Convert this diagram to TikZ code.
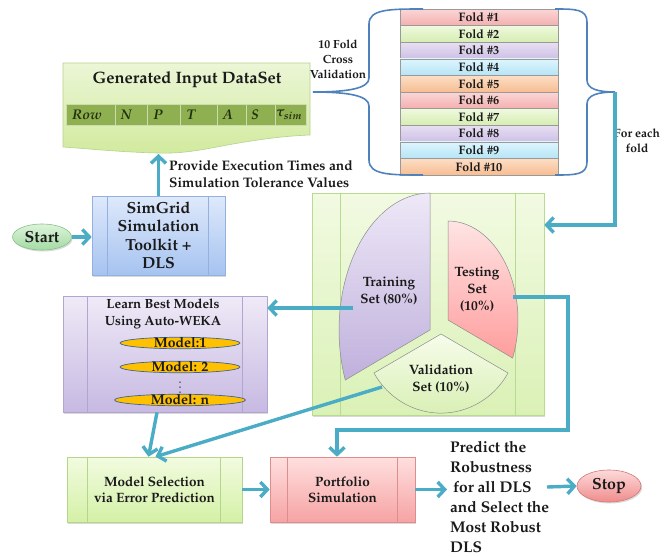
\documentclass[tikz,border=0pt]{standalone}
\usepackage[T1]{fontenc}
\usepackage{mathpazo}
\usetikzlibrary{arrows.meta,calc,shapes.geometric,shadows}
\definecolor{tealA}{HTML}{4BACC6}
\definecolor{braceB}{HTML}{4F81BD}
\definecolor{txt}{HTML}{1A1A1A}
% boxes
\definecolor{genT}{HTML}{EBF6D6}\definecolor{genM}{HTML}{D2EA9E}\definecolor{genB}{HTML}{B5D290}
\definecolor{tblG}{HTML}{8FB051}\definecolor{tblT}{HTML}{23300F}
\definecolor{sgT}{HTML}{DEE9FB}\definecolor{sgM}{HTML}{A6C3F0}\definecolor{sgB}{HTML}{94B0DE}
\definecolor{stT}{HTML}{DDF3DA}\definecolor{stM}{HTML}{A3DBA4}\definecolor{stB}{HTML}{86C286}
\definecolor{cvT}{HTML}{F2FAE2}\definecolor{cvM}{HTML}{DAF1B6}\definecolor{cvB}{HTML}{B9DB90}
\definecolor{lnT}{HTML}{EFEAF7}\definecolor{lnM}{HTML}{C7B9E2}\definecolor{lnB}{HTML}{B3A5D1}
\definecolor{msT}{HTML}{F2FBE0}\definecolor{msM}{HTML}{D4F1A6}\definecolor{msB}{HTML}{B5D68A}
\definecolor{ptT}{HTML}{FFDFDF}\definecolor{ptM}{HTML}{F6A3A3}\definecolor{ptB}{HTML}{DE8C8C}
\definecolor{spT}{HTML}{FDDADA}\definecolor{spM}{HTML}{F08C8C}\definecolor{spB}{HTML}{D27878}
% pie
\definecolor{trT}{HTML}{EEE8F7}\definecolor{trM}{HTML}{BFB0DC}
\definecolor{teT}{HTML}{FFE4E4}\definecolor{teM}{HTML}{FF9D9D}
\definecolor{vaT}{HTML}{F7FCEB}\definecolor{vaM}{HTML}{D5EEAE}
\definecolor{pieB}{HTML}{8C8C8C}
% folds
\definecolor{fRT}{HTML}{FBD6D6}\definecolor{fRB}{HTML}{F4AFAF}
\definecolor{fGT}{HTML}{EFF9DE}\definecolor{fGB}{HTML}{D6EDB2}
\definecolor{fPT}{HTML}{E8E0F3}\definecolor{fPB}{HTML}{CDBFE5}
\definecolor{fCT}{HTML}{DEF5FD}\definecolor{fCB}{HTML}{B5E5F6}
\definecolor{fOT}{HTML}{FCDEC6}\definecolor{fOB}{HTML}{F7BD92}
\definecolor{mdl}{HTML}{FFC000}\definecolor{mdlB}{HTML}{3E6494}
\begin{document}
\begin{tikzpicture}[x=1pt,y=-1pt,
  every node/.style={text=txt, inner sep=0pt, align=center},
  arr/.style={draw=tealA, line width=3.4pt, -{Straight Barb[length=7pt,width=15pt]}},
  brc/.style={draw=braceB, line width=1.6pt},
  fs/.style={font=\fontsize{#1}{#1}\selectfont\bfseries},
  shd/.style={drop shadow={shadow xshift=1.2pt, shadow yshift=-1.5pt, opacity=0.25, fill=black!60}},
  procbox/.style n args={3}{rectangle, draw=#3, top color=#1, bottom color=#2, line width=0.6pt, shd},
  fold/.style={rectangle, draw=black!40, line width=0.5pt, minimum width=158pt, minimum height=16.6pt, font=\fontsize{12.3}{13}\selectfont\bfseries},
  mdlell/.style={ellipse, draw=mdlB, fill=mdl, line width=0.7pt, inner sep=0pt},
  mdltxt/.style={font=\fontsize{14}{14}\selectfont\bfseries},
  cell/.style={font=\fontsize{14}{14}\selectfont\bfseries\itshape\boldmath, text=tblT}
]
\useasboundingbox (0,0) rectangle (665,557);

% ---------- Generated Input DataSet ----------
\path[draw=genB, top color=genT, bottom color=genM, line width=0.6pt]
  (63,63) -- (310,63) -- (310,135)
  .. controls (285,136) and (262,139) .. (233,144)
  .. controls (205,149) and (185,154) .. (157,153)
  .. controls (120,152) and (92,149) .. (63,147) -- cycle;
\node[fs=16.5] (gen) at (187,80) {Generated Input DataSet};
\foreach \a/\b in {66/115,115/147,147/180,180/217,217/246,246/275,275/306}
  \path[fill=tblG, draw=white!55!tblG, line width=0.9pt] (\a,104) rectangle (\b,125);
\node[cell] (c1) at (87,114.5) {Row};
\node[cell] (c2) at (126,114.5) {N};
\node[cell] (c3) at (158,114.5) {P};
\node[cell] (c4) at (191,114.5) {T};
\node[cell] (c5) at (228,114.5) {A};
\node[cell] (c6) at (255,114.5) {S};
\node[cell] (c7) at (289,114.5) {$\tau_{sim}$};
\coordinate (genin) at (158.5,154);

\node[anchor=west, align=left, font=\fontsize{13.8}{16.5}\selectfont\bfseries] (prov) at (169,174)
  {Provide Execution Times and\\Simulation Tolerance Values};

% ---------- Folds ----------
\foreach \i/\col in {1/R,2/G,3/P,4/C,5/O,6/R,7/G,8/P,9/C,10/O}
  \node[fold, top color=f\col T, bottom color=f\col B] (fold\i) at (479,{9+(\i-0.5)*16.6}) {Fold \#\i};

\coordinate (lbtip) at (313,92);
\coordinate (rbtip) at (615,92);
\draw[brc] (423,9) .. controls (390,9) and (369,9) .. (369,24) -- (369,78)
  .. controls (369,88) and (350,92) .. (lbtip)
  .. controls (350,92) and (369,96) .. (369,106) -- (369,160)
  .. controls (369,175) and (390,175) .. (423,175);
\draw[brc] (555,9) .. controls (575,9) and (587,9) .. (587,22) -- (587,80)
  .. controls (587,89) and (598,92) .. (rbtip)
  .. controls (598,92) and (587,95) .. (587,104) -- (587,162)
  .. controls (587,175) and (575,175) .. (555,175);
\node[font=\fontsize{11.8}{15}\selectfont\bfseries] (tfcv) at (338,59.5) {10 Fold\\Cross\\Validation};
\node[font=\fontsize{12}{15}\selectfont\bfseries] (each) at (637,140.5) {For each\\fold};

% ---------- Start / SimGrid ----------
\node[ellipse, draw=stB, top color=stT, bottom color=stM, line width=0.6pt, shd,
  minimum width=59pt, minimum height=26pt, fs=16] (start) at (42,237) {Start};
\node[procbox={sgT}{sgM}{sgB}, minimum width=133pt, minimum height=79pt,
  font=\fontsize{16}{18.5}\selectfont\bfseries] (sg) at (158.5,235.5)
  {SimGrid\\Simulation\\Toolkit +\\DLS};
\draw[sgB, line width=0.6pt] ([xshift=16pt]sg.north west) -- ([xshift=16pt]sg.south west)
  ([xshift=-17pt]sg.north east) -- ([xshift=-17pt]sg.south east);

% ---------- Cross-validation box with pie ----------
\node[procbox={cvT}{cvM}{cvB}, minimum width=232pt, minimum height=222pt] (cv) at (428,304) {};
\draw[cvB, line width=0.6pt] ([xshift=29pt]cv.north west) -- ([xshift=29pt]cv.south west)
  ([xshift=-29pt]cv.north east) -- ([xshift=-29pt]cv.south east);
\path[draw=pieB, top color=trT, bottom color=trM, line width=0.5pt]
  (430,193) -- (430,330) -- (345.3,380) arc[start angle=158.6, end angle=270, x radius=91, y radius=137] -- cycle;
\path[draw=pieB, top color=teT, bottom color=teM, line width=0.5pt]
  (448,320) -- (448,221) arc[start angle=-90, end angle=22.6, x radius=70, y radius=99] -- cycle;
\path[draw=pieB, top color=vaT, bottom color=vaM, line width=0.5pt]
  (441,334) -- (508,373) arc[start angle=29.5, end angle=150.5, x radius=77, y radius=79] -- cycle;
\node[font=\fontsize{13.5}{17}\selectfont\bfseries] (train) at (389,291.5) {Training\\Set (80\%)};
\node[font=\fontsize{13.5}{17}\selectfont\bfseries] (test) at (477,290) {Testing\\Set\\(10\%)};
\node[font=\fontsize{13.5}{17}\selectfont\bfseries] (valid) at (441,378.5) {Validation\\Set (10\%)};
\coordinate (trout) at (353,308);
\coordinate (vout) at (382,387);
\coordinate (tout) at (513,297);
\coordinate (tbend) at (568,430);

% ---------- Learn box ----------
\node[procbox={lnT}{lnM}{lnB}, minimum width=204pt, minimum height=116pt] (learn) at (165,354) {};
\draw[lnB, line width=0.6pt] ([xshift=25pt]learn.north west) -- ([xshift=25pt]learn.south west)
  ([xshift=-25pt]learn.north east) -- ([xshift=-25pt]learn.south east);
\node[font=\fontsize{13.3}{17}\selectfont\bfseries] (ltitle) at (163,313.5) {Learn Best Models\\Using Auto-WEKA};
\node[mdlell, minimum width=120pt, minimum height=11.5pt] (m1) at (180,343) {};
\node[mdlell, minimum width=120pt, minimum height=11.5pt] (m2) at (180,367) {};
\node[mdlell, minimum width=131pt, minimum height=11.5pt] (mn) at (180,400) {};
\node[mdltxt] (m1t) at (m1) {Model:1};
\node[mdltxt] (m2t) at (m2) {Model: 2};
\node[mdltxt] (mnt) at (mn) {Model: n};
\foreach \yy in {382,387,392} \fill[txt] (180,\yy) circle (0.75pt);

% ---------- Bottom row ----------
\node[procbox={msT}{msM}{msB}, minimum width=175pt, minimum height=65pt,
  font=\fontsize{13.5}{16}\selectfont\bfseries] (msel) at (154.5,489.5)
  {Model Selection\\via Error Prediction};
\draw[msB, line width=0.6pt] ([xshift=21pt]msel.north west) -- ([xshift=21pt]msel.south west)
  ([xshift=-22pt]msel.north east) -- ([xshift=-22pt]msel.south east);
\node[procbox={ptT}{ptM}{ptB}, minimum width=145pt, minimum height=65pt,
  font=\fontsize{13.5}{16}\selectfont\bfseries] (port) at (342.5,489.5)
  {Portfolio\\Simulation};
\draw[ptB, line width=0.6pt] ([xshift=18pt]port.north west) -- ([xshift=18pt]port.south west)
  ([xshift=-18pt]port.north east) -- ([xshift=-18pt]port.south east);
\node[anchor=west, align=left, font=\fontsize{15.5}{20}\selectfont\bfseries] (pred) at (450,497)
  {Predict the\\Robustness\\\hspace*{3pt}for all DLS\\and Select the\\Most Robust\\DLS};
\node[ellipse, draw=spB, top color=spT, bottom color=spM, line width=0.6pt, shd,
  minimum width=64pt, minimum height=32pt, fs=16] (stop) at (609,486) {Stop};
\coordinate (predout) at (547,487);

% ---------- Connectors ----------
\draw[arr] (start.east) -- (start.east -| sg.west);
\draw[arr] (sg.north) -- (genin);
\draw[arr] (rbtip) |- (cv.east |- 0,225);
\draw[arr] (trout) -- (trout -| learn.east);
\draw[arr] ([xshift=-8pt]learn.south) -- ([xshift=-6pt]msel.north);
\draw[arr] (vout) -- ([xshift=1pt]msel.north);
\draw[arr] (tout) -| (tbend) -| ([xshift=-5.5pt]port.north);
\draw[arr] (msel.east) -- (port.west);
\draw[arr] (port.east) -- ([xshift=-3pt]port.east -| pred.west);
\draw[arr] (predout) -- (stop.west);
\end{tikzpicture}
\end{document}
